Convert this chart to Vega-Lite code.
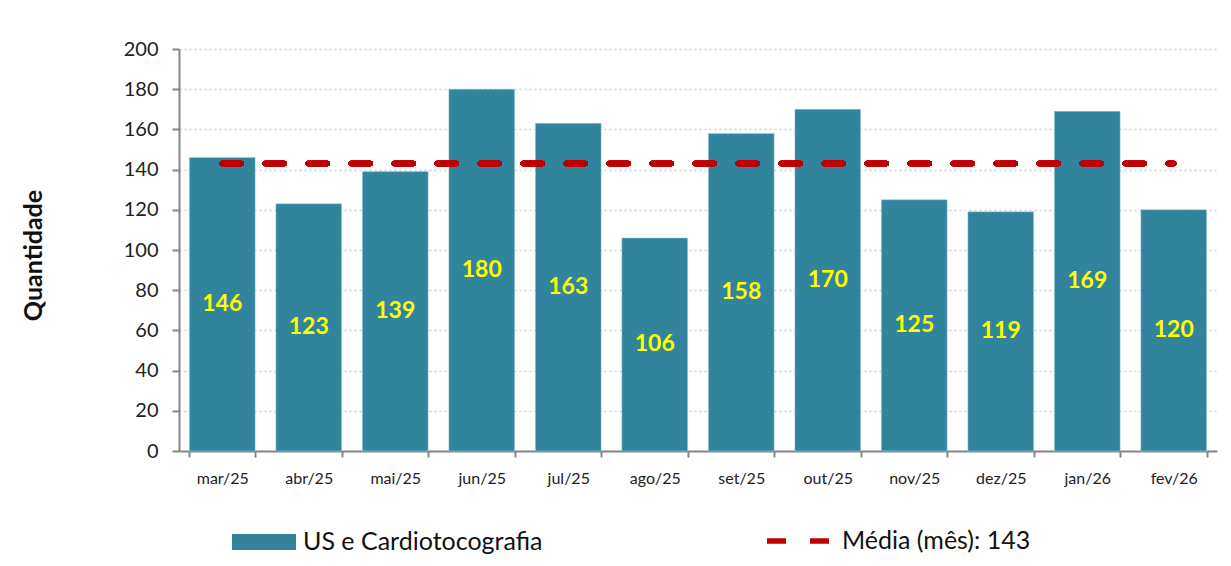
{
  "$schema": "https://vega.github.io/schema/vega-lite/v6.json",
  "width": 1038,
  "height": 402,
  "autosize": {"type": "none"},
  "padding": {"left": 179, "top": 49, "right": 14, "bottom": 115},
  "background": "white",
  "config": {
    "font": "Lato",
    "view": {"stroke": null},
    "axis": {"labelFont": "Lato", "titleFont": "Lato"},
    "legend": {"labelFont": "Lato"}
  },
  "data": {
    "values": [
      {"mes": "mar/25", "valor": 146},
      {"mes": "abr/25", "valor": 123},
      {"mes": "mai/25", "valor": 139},
      {"mes": "jun/25", "valor": 180},
      {"mes": "jul/25", "valor": 163},
      {"mes": "ago/25", "valor": 106},
      {"mes": "set/25", "valor": 158},
      {"mes": "out/25", "valor": 170},
      {"mes": "nov/25", "valor": 125},
      {"mes": "dez/25", "valor": 119},
      {"mes": "jan/26", "valor": 169},
      {"mes": "fev/26", "valor": 120}
    ]
  },
  "layer": [
    {
      "mark": {"type": "bar", "stroke": "#9fd0de", "strokeWidth": 0.5},
      "encoding": {
        "x": {
          "field": "mes", "type": "nominal",
          "scale": {"domain": ["mar/25","abr/25","mai/25","jun/25","jul/25","ago/25","set/25","out/25","nov/25","dez/25","jan/26","fev/26"], "paddingInner": 0.24, "paddingOuter": 0.12},
          "axis": {
            "title": null, "labelAngle": 0, "labelFontSize": 16, "labelColor": "#222222",
            "labelPadding": 13, "domainColor": "#868686", "domainWidth": 2,
            "tickColor": "#868686", "tickWidth": 2, "tickSize": 6, "tickBand": "extent"
          }
        },
        "y": {
          "field": "valor", "type": "quantitative",
          "scale": {"domain": [0, 200], "nice": false},
          "axis": {
            "title": "Quantidade", "titleFontSize": 25, "titleFontWeight": "bold", "titleColor": "#111111",
            "titleAngle": 270, "titleX": -146, "titleY": 206, "titleAlign": "center", "titleBaseline": "middle",
            "values": [0,20,40,60,80,100,120,140,160,180,200],
            "labelFontSize": 20, "labelColor": "#222222", "labelPadding": 14,
            "domainColor": "#868686", "domainWidth": 2, "tickColor": "#868686", "tickWidth": 2, "tickSize": 7,
            "grid": true, "gridColor": "#cfcfcf", "gridDash": [2, 3], "gridWidth": 1.5
          }
        },
        "fill": {
          "datum": "US e Cardiotocografia",
          "scale": {"range": ["#31849B"]},
          "legend": {
            "title": null, "orient": "none", "legendX": 53, "legendY": 461,
            "symbolType": "M-1,-0.25H1V0.25H-1Z", "symbolSize": 4096, "symbolStrokeWidth": 0,
            "labelFontSize": 25, "labelColor": "#111111", "labelOffset": 7, "labelLimit": 500
          }
        }
      }
    },
    {
      "mark": {"type": "text", "color": "#FFFF00", "fontWeight": "bold", "fontSize": 23, "baseline": "middle", "align": "center"},
      "encoding": {
        "x": {"field": "mes", "type": "nominal"},
        "y": {"field": "valor", "type": "quantitative", "scale": {"domain": [0, 400], "nice": false}, "axis": null},
        "text": {"field": "valor", "type": "quantitative"}
      }
    },
    {
      "mark": {"type": "rule", "color": "#C00000", "strokeWidth": 5.5, "strokeCap": "round"},
      "encoding": {
        "x": {"datum": "mar/25"},
        "x2": {"datum": "fev/26"},
        "y": {"datum": 143, "type": "quantitative", "scale": {"domain": [0, 200], "nice": false}, "axis": null},
        "strokeDash": {
          "datum": "Média (mês): 143",
          "scale": {"range": [[19, 24]]},
          "legend": {
            "title": null, "orient": "none", "legendX": 585, "legendY": 455,
            "symbolType": "stroke", "symbolSize": 4624, "symbolStrokeColor": "#C00000", "symbolStrokeWidth": 5.5,
            "symbolDash": [24, 19],
            "labelFontSize": 25, "labelColor": "#111111", "labelOffset": 4, "labelLimit": 500
          }
        }
      }
    }
  ],
  "resolve": {"scale": {"y": "independent"}}
}
